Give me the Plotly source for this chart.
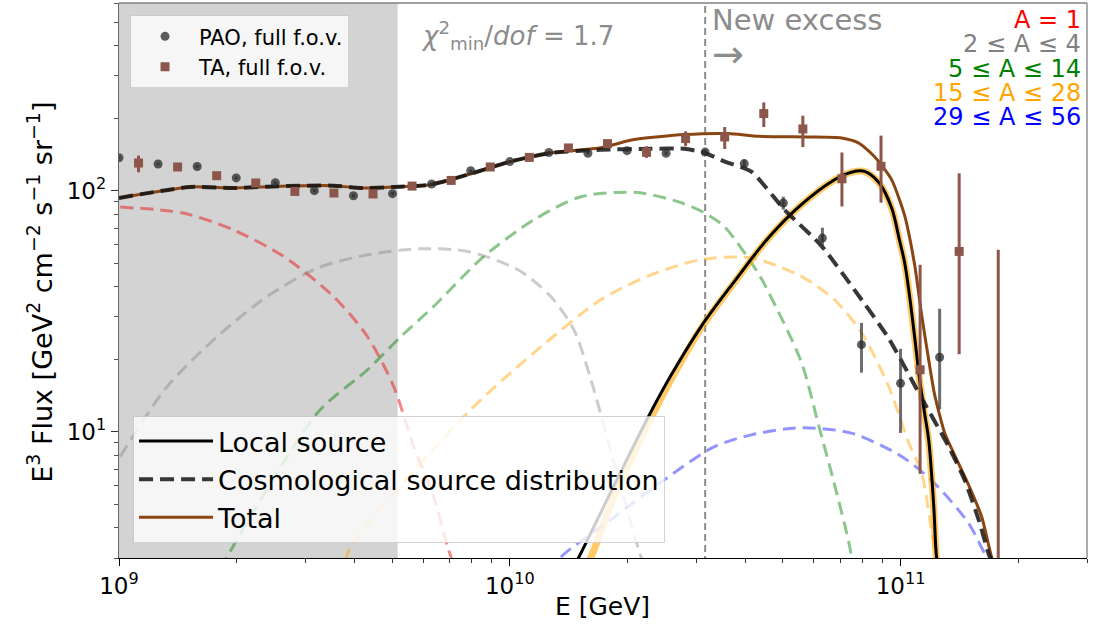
import numpy as np
import plotly.graph_objects as go

# ---------------- measured spectra (E^3 J, GeV^2 cm^-2 s^-1 sr^-1) ----------------
pao_log10_E = [9.0, 9.1, 9.2, 9.3, 9.4, 9.5, 9.6, 9.7, 9.8, 9.9, 10.0, 10.1, 10.2,
               10.3, 10.4, 10.5, 10.6, 10.7, 10.8, 10.9, 11.0, 11.1]
pao_flux = [137, 129, 126, 113, 108, 100, 95.3, 97.2, 106.6, 121, 132, 144, 143,
            146.5, 143, 144.6, 129.5, 88.9, 63.6, 23.0, 15.9, 20.4]
pao_err_up = [1.5, 1.5, 1.5, 1.5, 1.5, 1.5, 1.5, 1.5, 1.5, 1.5, 1.8, 2.0, 2.0,
              2.2, 2.5, 3.0, 5.0, 5.5, 6.6, 5.3, 6.2, 12.0]
pao_err_down = [1.5, 1.5, 1.5, 1.5, 1.5, 1.5, 1.5, 1.5, 1.5, 1.5, 1.8, 2.0, 2.0,
                2.2, 2.5, 3.0, 7.3, 5.5, 5.0, 5.4, 6.0, 8.0]

ta_log10_E = [9.05, 9.15, 9.25, 9.35, 9.45, 9.55, 9.65, 9.75, 9.85, 9.95, 10.05, 10.15,
              10.25, 10.35, 10.45, 10.55, 10.65, 10.75, 10.85, 10.95, 11.05, 11.15, 11.25]
ta_flux = [130.2, 125.4, 115.4, 107.6, 99.3, 97.8, 96.9, 104.5, 110.3, 125.4, 137.4, 150.4,
           156.7, 144.2, 164.4, 167.0, 208.8, 180.3, 112.0, 126.2, 18.1, 56.0, 1.5]
ta_err_up = [9.5, 2.5, 2.5, 2.5, 2.5, 2.5, 2.5, 2.5, 2.5, 3.0, 3.0, 3.5,
             4.0, 8.6, 11.8, 16.6, 23.5, 24.3, 32.0, 43.0, 31.2, 62.0, 55.4]
ta_err_down = [11.0, 2.5, 2.5, 2.5, 2.5, 2.5, 2.5, 2.5, 2.5, 3.0, 3.0, 3.5,
               4.0, 7.4, 11.6, 18.1, 25.2, 28.7, 26.0, 37.0, 11.4, 35.0, 1.0]

# ---------------- model: cosmological source distribution, by mass group ----------------
cosmo_p_log10_E = [9.003, 9.164, 9.292, 9.421, 9.549, 9.636, 9.703, 9.754, 9.805, 9.841, 9.86]
cosmo_p_flux = [85.5, 80.8, 68.9, 53.4, 36.4, 24.8, 15.4, 8.7, 5.39, 3.34, 2.7]

cosmo_he_log10_E = [9.003, 9.123, 9.251, 9.379, 9.508, 9.636, 9.764, 9.892, 10.021,
                    10.105, 10.164, 10.208, 10.267, 10.336, 10.35]
cosmo_he_flux = [7.9, 15.4, 24.8, 36.4, 47.8, 54.2, 57.4, 56.0, 47.0,
                 36.4, 26.5, 16.4, 7.43, 3.03, 2.7]

cosmo_cno_log10_E = [9.26, 9.277, 9.508, 9.636, 9.721, 9.805, 9.933, 10.062, 10.182, 10.328,
                     10.438, 10.497, 10.549, 10.636, 10.662, 10.746, 10.790, 10.831, 10.867, 10.88]
cosmo_cno_flux = [2.7, 3.04, 12.0, 18.1, 24.8, 33.1, 53.3, 75.8, 94.4, 98.2,
                  89.2, 81.1, 71.0, 45.4, 38.0, 19.5, 10.7, 6.05, 3.52, 2.7]

cosmo_si_log10_E = [9.58, 9.592, 9.892, 10.062, 10.233, 10.362, 10.490, 10.618, 10.746, 10.831,
                    10.900, 10.969, 11.021, 11.054, 11.079, 11.092, 11.10]
cosmo_si_flux = [2.9, 3.34, 12.0, 21.3, 35.3, 44.8, 51.8, 52.6, 44.1, 35.3,
                 25.8, 15.5, 9.0, 6.76, 3.92, 3.03, 2.7]

cosmo_fe_log10_E = [10.10, 10.131, 10.267, 10.395, 10.523, 10.618, 10.746, 10.874,
                    11.003, 11.087, 11.174, 11.215, 11.24]
cosmo_fe_flux = [2.6, 3.03, 4.43, 6.32, 8.67, 9.72, 10.4, 9.88,
                 7.91, 6.12, 4.18, 3.14, 2.7]

cosmo_total_log10_E = [9.0, 9.182, 9.292, 9.395, 9.549, 9.618, 9.703, 9.797, 9.892, 10.003,
                       10.105, 10.233, 10.362, 10.446, 10.497, 10.549, 10.618, 10.703, 10.797,
                       10.882, 10.969, 11.054, 11.123, 11.164, 11.200, 11.228, 11.25]
cosmo_total_flux = [93.3, 103.6, 102.6, 104.2, 104.9, 102.6, 103.6, 105.9, 116.5, 132.3,
                    143.3, 147.8, 149.2, 149.2, 143.8, 132.3, 119.9, 83.4, 59.2,
                    38.8, 24.5, 13.8, 8.69, 6.32, 4.32, 3.04, 2.6]

# ---------------- model: local source ----------------
local_log10_E = [10.15, 10.177, 10.267, 10.354, 10.413, 10.490, 10.574, 10.662, 10.746, 10.831,
                 10.874, 10.908, 10.944, 10.977, 10.997, 11.010, 11.021, 11.036, 11.049, 11.062,
                 11.072, 11.085, 11.092, 11.10]
local_flux = [2.5, 3.03, 6.0, 11.5, 17.2, 27.4, 41.9, 63.8, 87.5, 111.0,
              119.3, 120.3, 108.4, 85.0, 62.6, 50.7, 38.8, 24.8, 16.4, 11.8,
              9.27, 4.9, 3.03, 2.5]

local_si_log10_E = [10.18, 10.208, 10.267, 10.354, 10.413, 10.490, 10.574, 10.662, 10.746, 10.831,
                    10.874, 10.908, 10.944, 10.977, 10.997, 11.010, 11.021, 11.036, 11.049, 11.062,
                    11.072, 11.085, 11.092, 11.10]
local_si_flux = [2.5, 3.03, 5.4, 10.8, 16.5, 27.0, 41.5, 63.5, 87.3, 110.8,
                 119.0, 120.0, 108.0, 84.8, 62.4, 50.5, 38.6, 24.6, 16.2, 11.6,
                 9.1, 4.8, 2.95, 2.4]

# ---------------- model: total ----------------
total_log10_E = [9.0, 9.182, 9.292, 9.395, 9.549, 9.618, 9.703, 9.797, 9.892, 10.003,
                 10.105, 10.233, 10.318, 10.446, 10.559, 10.636, 10.764, 10.849, 10.892,
                 10.933, 10.977, 11.010, 11.036, 11.054, 11.072, 11.087, 11.113, 11.138,
                 11.174, 11.208, 11.233, 11.25]
total_flux = [93.3, 103.6, 102.6, 104.2, 104.9, 102.6, 103.6, 105.9, 116.5, 132.3,
              143.3, 150.6, 162.9, 170.8, 172.5, 168.0, 167.0, 165.5, 157.8,
              138.7, 111.1, 79.4, 49.3, 30.5, 19.9, 14.3, 9.9, 8.03,
              6.03, 4.43, 3.03, 2.6]

fit_threshold_log10_E = 9.713      # lower end of the fitted energy range
excess_log10_E = 10.5              # onset of the new excess
chi2_dof = 1.7

mass_groups = ["A = 1", "2 ≤ A ≤ 4", "5 ≤ A ≤ 14", "15 ≤ A ≤ 28", "29 ≤ A ≤ 56"]
group_colors = ["red", "gray", "green", "orange", "blue"]
group_dash_colors = ["rgba(230,40,40,0.55)", "rgba(128,128,128,0.4)", "rgba(0,128,0,0.45)",
                     "rgba(255,165,0,0.45)", "rgba(0,0,255,0.42)"]

FONT = "DejaVu Sans"


def E(lg):
    return [10 ** v for v in lg]


fig = go.Figure()

# excluded low-energy region
fig.add_trace(go.Scatter(
    x=E([9.0, fit_threshold_log10_E, fit_threshold_log10_E, 9.0]),
    y=[1, 1, 1000, 1000], fill="toself", fillcolor="#d3d3d3",
    mode="none", showlegend=False, hoverinfo="skip"))

# onset of the excess
fig.add_trace(go.Scatter(
    x=E([excess_log10_E, excess_log10_E]), y=[1, 1000], mode="lines",
    line=dict(color="#8c8c8c", width=2, dash="7px,4px"),
    showlegend=False, hoverinfo="skip"))

# cosmological components
comp = [(cosmo_p_log10_E, cosmo_p_flux), (cosmo_he_log10_E, cosmo_he_flux),
        (cosmo_cno_log10_E, cosmo_cno_flux), (cosmo_si_log10_E, cosmo_si_flux),
        (cosmo_fe_log10_E, cosmo_fe_flux)]
for (lx, fy), col in zip(comp, group_dash_colors):
    fig.add_trace(go.Scatter(
        x=E(lx), y=fy, mode="lines", line=dict(color=col, width=3, dash="13px,7px",
                                               shape="spline", smoothing=0.8),
        showlegend=False, hoverinfo="skip"))

# local source: Si-group component underneath the local total
fig.add_trace(go.Scatter(
    x=E(local_si_log10_E), y=local_si_flux, mode="lines",
    line=dict(color="rgba(255,165,0,0.6)", width=7, shape="spline", smoothing=1.0),
    showlegend=False, hoverinfo="skip"))
fig.add_trace(go.Scatter(
    x=E(local_log10_E), y=local_flux, mode="lines", name="Local source",
    line=dict(color="black", width=3, shape="spline", smoothing=1.0),
    legend="legend2", legendrank=1))

# total
fig.add_trace(go.Scatter(
    x=E(total_log10_E), y=total_flux, mode="lines", name="Total",
    line=dict(color="#8B4513", width=3, shape="spline", smoothing=0.6),
    legend="legend2", legendrank=3))

# cosmological total
fig.add_trace(go.Scatter(
    x=E(cosmo_total_log10_E), y=cosmo_total_flux, mode="lines",
    name="Cosmological source distribution",
    line=dict(color="rgba(20,20,20,0.85)", width=4, dash="14px,7px",
              shape="spline", smoothing=0.6),
    legend="legend2", legendrank=2))

# data
fig.add_trace(go.Scatter(
    x=E(pao_log10_E), y=pao_flux, mode="markers", name="PAO, full f.o.v.",
    marker=dict(symbol="circle", size=9, color="rgba(40,40,40,0.75)"),
    error_y=dict(type="data", symmetric=False, array=pao_err_up, arrayminus=pao_err_down,
                 color="rgba(60,60,60,0.75)", thickness=3, width=0),
    legend="legend", legendrank=1))
fig.add_trace(go.Scatter(
    x=E(ta_log10_E), y=ta_flux, mode="markers", name="TA, full f.o.v.",
    marker=dict(symbol="square", size=9, color="#8c564b"),
    error_y=dict(type="data", symmetric=False, array=ta_err_up, arrayminus=ta_err_down,
                 color="#8c564b", thickness=3, width=0),
    legend="legend", legendrank=2))

xminor = [m * 10 ** d for d in (9, 10, 11) for m in range(2, 10) if m * 10 ** d <= 3e11]
yminor = [m * 10 ** d for d in (0, 1, 2) for m in range(2, 10) if 3 <= m * 10 ** d <= 600]

fig.update_xaxes(
    type="log", range=[9, np.log10(3e11)], showgrid=False, zeroline=False,
    showline=True, linecolor="black", linewidth=1.3, mirror=False,
    ticks="outside", ticklen=7, tickwidth=1.2, tickcolor="black",
    tickvals=[1e9, 1e10, 1e11],
    ticktext=["10<sup>9</sup>", "10<sup>10</sup>", "10<sup>11</sup>"],
    tickfont=dict(family=FONT, size=23, color="black"),
    minor=dict(tickvals=xminor, ticks="outside", ticklen=4, tickwidth=1, tickcolor="#333"))
fig.update_yaxes(
    type="log", range=[np.log10(3), np.log10(600)], showgrid=False, zeroline=False,
    showline=True, linecolor="#666", linewidth=1.3, mirror=False,
    ticks="outside", ticklen=7, tickwidth=1.2, tickcolor="#333",
    tickvals=[10, 100], ticktext=["10<sup>1</sup>", "10<sup>2</sup>"],
    tickfont=dict(family=FONT, size=23, color="black"),
    minor=dict(tickvals=yminor, ticks="outside", ticklen=4, tickwidth=1, tickcolor="#555"))

annotations = [
    dict(text="E [GeV]", x=0.499, y=-0.088, xref="paper", yref="paper",
         xanchor="center", yanchor="middle", showarrow=False,
         font=dict(family=FONT, size=25, color="black")),
    dict(text="E<sup>3</sup> Flux [GeV<sup>2</sup> cm<sup>−2</sup> s<sup>−1</sup> sr<sup>−1</sup>]",
         x=-0.082, y=0.479, xref="paper", yref="paper", textangle=-90,
         xanchor="center", yanchor="middle", showarrow=False,
         font=dict(family=FONT, size=27, color="black")),
    dict(text=f"<i>χ</i><sup>2</sup><sub>min</sub>/<i>dof</i> = {chi2_dof}",
         x=0.412, y=0.942, xref="paper", yref="paper", xanchor="center", yanchor="middle",
         showarrow=False, font=dict(family=FONT, size=26, color="#8c8c8c")),
    dict(text="New excess", x=0.6105, y=0.969, xref="paper", yref="paper",
         xanchor="left", yanchor="middle", showarrow=False,
         font=dict(family=FONT, size=29, color="#8c8c8c")),
    dict(text="→", x=0.6105, y=0.908, xref="paper", yref="paper",
         xanchor="left", yanchor="middle", showarrow=False,
         font=dict(family=FONT, size=38, color="#8c8c8c")),
]
for i, (lab, col) in enumerate(zip(mass_groups, group_colors)):
    annotations.append(dict(
        text=lab, x=0.9959, y=0.969 - 0.0437 * i, xref="paper", yref="paper",
        xanchor="right", yanchor="middle", showarrow=False,
        font=dict(family=FONT, size=24, color=col)))

fig.update_layout(
    width=1102, height=630,
    margin=dict(l=119, r=15, t=3, b=72),
    plot_bgcolor="white", paper_bgcolor="white",
    font=dict(family=FONT, color="black"),
    annotations=annotations,
    shapes=[
        dict(type="line", xref="paper", yref="paper", x0=0, x1=1, y0=1, y1=1,
             line=dict(color="#808080", width=1.3)),
        dict(type="line", xref="paper", yref="paper", x0=1, x1=1, y0=0, y1=1,
             line=dict(color="#808080", width=1.3)),
    ],
    legend=dict(x=0.0114, y=0.978, xanchor="left", yanchor="top",
                bgcolor="rgba(255,255,255,0.8)", bordercolor="rgba(200,200,200,0.8)",
                borderwidth=1, font=dict(family=FONT, size=21, color="black"),
                itemwidth=58, tracegroupgap=0),
    legend2=dict(x=0.0145, y=0.027, xanchor="left", yanchor="bottom",
                 bgcolor="rgba(255,255,255,0.8)", bordercolor="rgba(200,200,200,0.8)",
                 borderwidth=1, font=dict(family=FONT, size=27, color="black"),
                 itemwidth=74, tracegroupgap=0),
)

fig.write_html("out.html")
